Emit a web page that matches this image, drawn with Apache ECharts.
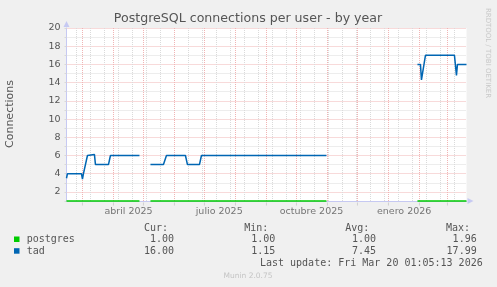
<!DOCTYPE html>
<html>
<head>
<meta charset="utf-8">
<script src="https://cdn.jsdelivr.net/npm/echarts@6/dist/echarts.min.js"></script>
<style>
html,body{margin:0;padding:0;background:#f0f0f0;}
#chart{width:497px;height:287px;}
</style>
</head>
<body>
<div id="chart"></div>
<script>
// ---- data ----
const title = 'PostgreSQL connections per user - by year';
const yName = 'Connections';
const xStart = '2025-02-13T01:05:13';
const xEnd = '2026-03-20T01:05:13';

const monthLabels = ['abril 2025', 'julio 2025', 'octubre 2025', 'enero 2026'];
const monthLabelDates = ['2025-04-16T01:00:00', '2025-07-15T18:00:00', '2025-10-16T01:00:00', '2026-01-16T17:00:00'];

const postgresDates = ['2025-02-13T01:05:13', '2025-04-27T00:00:00', '2025-04-28T00:00:00', '2025-05-08T00:00:00',
  '2025-10-31T00:00:00', '2025-11-01T00:00:00', '2026-01-30T00:00:00', '2026-03-20T01:05:13'];
const postgresValues = [1, 1, null, 1, 1, null, 1, 1];

const tadDates = ['2025-02-13T01:05:13', '2025-02-14T00:00:00', '2025-02-28T00:00:00', '2025-03-01T00:00:00',
  '2025-03-02T00:00:00', '2025-03-03T00:00:00', '2025-03-06T00:00:00', '2025-03-13T00:00:00',
  '2025-03-14T00:00:00', '2025-03-27T00:00:00', '2025-03-29T00:00:00', '2025-04-27T00:00:00',
  '2025-04-28T00:00:00', '2025-05-08T00:00:00', '2025-05-21T00:00:00', '2025-05-24T00:00:00',
  '2025-06-12T00:00:00', '2025-06-14T00:00:00', '2025-06-26T00:00:00', '2025-06-28T00:00:00',
  '2025-10-31T00:00:00', '2025-11-01T00:00:00', '2026-01-30T00:00:00', '2026-02-02T00:00:00',
  '2026-02-03T00:00:00', '2026-02-07T00:00:00', '2026-03-08T00:00:00', '2026-03-10T00:00:00',
  '2026-03-11T00:00:00', '2026-03-20T01:05:13'];
const tadValues = [3.5, 4, 4, 3.4, 4, 4, 6, 6.1, 5, 5, 6, 6,
  null, 5, 5, 6, 6, 5, 5, 6,
  6, null, 16, 16, 14.3, 17, 17, 14.8, 16, 16];

const legendHeaders = ['Cur:', 'Min:', 'Avg:', 'Max:'];
const legendNames = ['postgres', 'tad'];
const postgresStats = ['1.00', '1.00', '1.00', '1.96'];
const tadStats = ['16.00', '1.15', '7.45', '17.99'];
const lastUpdate = 'Last update: Fri Mar 20 01:05:13 2026';
const muninVersion = 'Munin 2.0.75';
const rrdCredit = 'RRDTOOL / TOBI OETIKER';

// ---- styles ----
const GREEN = '#00cc00';
const BLUE = '#0066b3';
const RED_GRID = '#f0b4b4';
const GRAY_GRID = '#dadada';
const AXIS = '#c6c9f2';
const TXT = '#555555';
const FONT = 'DejaVu Sans';
const MONO = 'DejaVu Sans Mono';

function pairs(d, v) { return d.map((x, i) => [x, v[i]]); }

// vertical grid positions (month starts: major; every 2 weeks: minor)
const majorDates = [];
for (let m = 2; m <= 14; m++) {
  const dt = new Date(2025, m, 1);
  majorDates.push(dt.getTime());
}
const minorDates = [];
{
  let dt = new Date(2025, 1, 23);
  const end = new Date(2026, 2, 20).getTime();
  while (dt.getTime() < end) {
    minorDates.push(dt.getTime());
    dt = new Date(dt.getFullYear(), dt.getMonth(), dt.getDate() + 14);
  }
}
const gridLines = [];
minorDates.forEach(t => gridLines.push({ xAxis: t, lineStyle: { color: GRAY_GRID, type: [1, 1], width: 1 } }));
majorDates.forEach(t => gridLines.push({ xAxis: t, lineStyle: { color: RED_GRID, type: [1, 1], width: 1 } }));

const chart = echarts.init(document.getElementById('chart'), null, { renderer: 'canvas' });

const graphics = [
  { type: 'text', x: 248, y: 19, style: { text: title, font: '12.6px "' + FONT + '"', fill: TXT, textAlign: 'center', textVerticalAlign: 'middle' } },
  { type: 'text', x: 10, y: 114, rotation: Math.PI / 2, style: { text: yName, font: '11px "' + FONT + '"', fill: TXT, textAlign: 'center', textVerticalAlign: 'middle' } },
  { type: 'text', x: 488, y: 53, rotation: -Math.PI / 2, style: { text: rrdCredit, font: '7px "' + FONT + '"', fill: '#c8c8c8', textAlign: 'center', textVerticalAlign: 'middle' } },
  { type: 'text', x: 248, y: 276, style: { text: muninVersion, font: '7.5px "' + FONT + '"', fill: '#c4c4c4', textAlign: 'center', textVerticalAlign: 'middle' } },
  { type: 'text', x: 482.7, y: 263.7, style: { text: lastUpdate, font: '10px "' + MONO + '"', fill: TXT, textAlign: 'right', textVerticalAlign: 'middle' } },
  { type: 'rect', shape: { x: 14, y: 236.5, width: 5.5, height: 5.5 }, style: { fill: GREEN } },
  { type: 'rect', shape: { x: 14, y: 248.2, width: 5.5, height: 5.5 }, style: { fill: BLUE } },
];
const headerX = [168, 268.3, 369.3, 470];
const valueX = [174, 275.3, 376, 476.7];
legendHeaders.forEach((h, i) => graphics.push({ type: 'text', x: headerX[i], y: 228.3, style: { text: h, font: '10px "' + MONO + '"', fill: TXT, textAlign: 'right', textVerticalAlign: 'middle' } }));
[postgresStats, tadStats].forEach((row, r) => {
  const y = r === 0 ? 239.3 : 251;
  graphics.push({ type: 'text', x: 26.7, y: y, style: { text: legendNames[r], font: '10px "' + MONO + '"', fill: TXT, textAlign: 'left', textVerticalAlign: 'middle' } });
  row.forEach((v, i) => graphics.push({ type: 'text', x: valueX[i], y: y, style: { text: v, font: '10px "' + MONO + '"', fill: TXT, textAlign: 'right', textVerticalAlign: 'middle' } }));
});

chart.setOption({
  animation: false,
  backgroundColor: '#f0f0f0',
  grid: { left: 66.5, right: 30.5, top: 28, bottom: 86, show: true, backgroundColor: '#ffffff', borderWidth: 0 },
  xAxis: {
    type: 'time',
    min: xStart,
    max: xEnd,
    z: 0,
    axisLabel: { show: false },
    axisTick: { show: false },
    splitLine: { show: false },
    axisLine: { show: true, lineStyle: { color: AXIS, width: 1 }, symbol: ['none', 'triangle'], symbolSize: [6, 6], symbolOffset: [0, 4] }
  },
  yAxis: {
    type: 'value',
    min: 1,
    max: 20,
    interval: 1,
    z: 0,
    axisLine: { show: true, lineStyle: { color: AXIS, width: 1 }, symbol: ['none', 'triangle'], symbolSize: [6, 6], symbolOffset: [0, 4] },
    axisTick: { show: true, length: 2, lineStyle: { color: '#d8d8d8' } },
    axisLabel: { margin: 6, color: TXT, fontSize: 9.5, fontFamily: FONT, formatter: v => (v % 2 === 0 ? String(v) : '') },
    splitLine: { show: true, lineStyle: { color: [GRAY_GRID, RED_GRID], type: [1, 1], width: 1 } }
  },
  graphic: graphics,
  series: [
    {
      type: 'line', z: 1, silent: true, data: [[xStart, null]], symbol: 'none',
      markLine: { silent: true, symbol: ['none', 'none'], label: { show: false }, emphasis: { disabled: true }, data: gridLines }
    },
    {
      type: 'scatter', z: 2, silent: true, symbol: 'rect', symbolSize: [1, 3], symbolOffset: [0, 3], clip: false,
      itemStyle: { color: '#c8c8c8' },
      data: majorDates.map(t => [t, 1])
    },
    {
      name: 'postgres', type: 'line', z: 10, clip: false, data: pairs(postgresDates, postgresValues), symbol: 'none', showSymbol: false,
      connectNulls: false, lineStyle: { color: GREEN, width: 1.6, type: 'solid' }, itemStyle: { color: GREEN }, silent: true
    },
    {
      name: 'tad', type: 'line', z: 11, clip: false, data: pairs(tadDates, tadValues), symbol: 'none', showSymbol: false,
      connectNulls: false, lineStyle: { color: BLUE, width: 1.5, type: 'solid' }, itemStyle: { color: BLUE }, silent: true
    },
    {
      type: 'scatter', z: 12, silent: true, symbolSize: 1, itemStyle: { color: 'rgba(0,0,0,0)' }, clip: false,
      data: monthLabelDates.map((d, i) => ({ value: [d, 1], name: monthLabels[i] })),
      label: { show: true, position: 'bottom', distance: 5, formatter: p => p.name, color: TXT, fontSize: 9.5, fontFamily: FONT }
    }
  ]
});
</script>
</body>
</html>
